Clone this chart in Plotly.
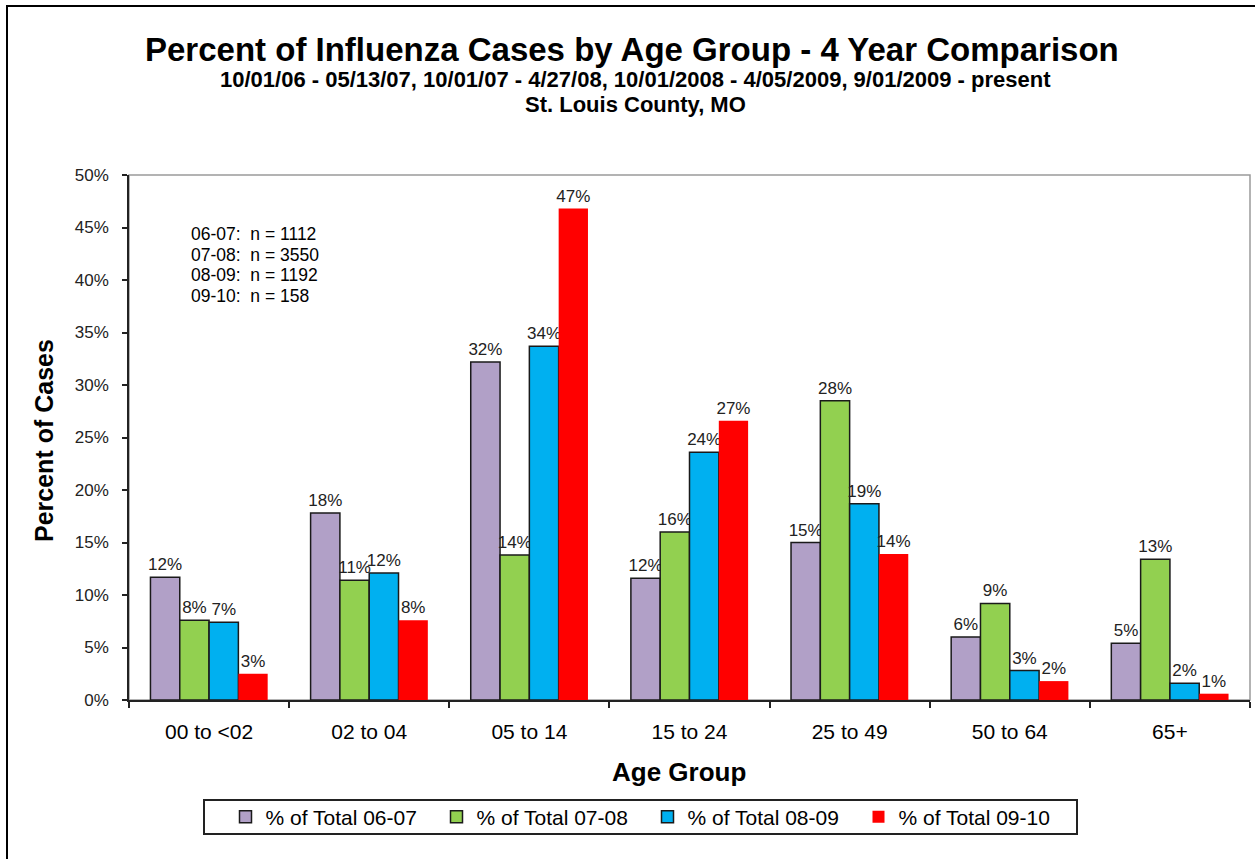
import plotly.graph_objects as go

categories = ["00 to <02", "02 to 04", "05 to 14", "15 to 24", "25 to 49", "50 to 64", "65+"]
series_names = ["% of Total 06-07", "% of Total 07-08", "% of Total 08-09", "% of Total 09-10"]
vals_0607 = [0.117, 0.178, 0.322, 0.116, 0.150, 0.060, 0.054]
vals_0708 = [0.076, 0.114, 0.138, 0.160, 0.285, 0.092, 0.134]
vals_0809 = [0.074, 0.121, 0.337, 0.236, 0.187, 0.028, 0.016]
vals_0910 = [0.025, 0.076, 0.468, 0.266, 0.139, 0.018, 0.006]
series_vals = [vals_0607, vals_0708, vals_0809, vals_0910]
colors = ["#B1A0C7", "#92D050", "#00B0F0", "#FF0000"]
outline_colors = ["#1a1a1a", "#1a1a1a", "#1a1a1a", "#FF0000"]
outline_widths = [1.5, 1.5, 1.5, 0]
n_lines = ["06-07:  n = 1112", "07-08:  n = 3550", "08-09:  n = 1192", "09-10:  n = 158"]

FONT = "Liberation Sans, Arial, sans-serif"

# plot area in pixels
W, H = 1255, 859
L, R, T, B = 129, 1250, 175, 700
PW, PH = R - L, B - T


def px(x):
    return (x - L) / PW


def py(y):
    return (B - y) / PH


fig = go.Figure()
for name, vals, c, lc, lw in zip(series_names, series_vals, colors, outline_colors, outline_widths):
    fig.add_trace(go.Bar(
        x=categories, y=vals, name=name,
        marker=dict(color=c, line=dict(color=lc, width=lw)),
        texttemplate="%{y:.0%}", textposition="outside",
        textfont=dict(family=FONT, size=17, color="#222222"),
        constraintext="none", cliponaxis=False,
    ))

annotations = [
    dict(text="<b>Percent of Influenza Cases by Age Group - 4 Year Comparison</b>",
         x=px(632), y=py(50), font=dict(size=33)),
    dict(text="<b>10/01/06 - 05/13/07, 10/01/07 - 4/27/08, 10/01/2008 - 4/05/2009, 9/01/2009 - present</b>",
         x=px(635), y=py(80), font=dict(size=22)),
    dict(text="<b>St. Louis County, MO</b>", x=px(635), y=py(104), font=dict(size=22)),
    dict(text="<b>Percent of Cases</b>", x=px(44), y=py(441), textangle=-90, font=dict(size=25)),
    dict(text="<b>Age Group</b>", x=px(679), y=py(772), font=dict(size=26)),
]
for i, t in enumerate(n_lines):
    annotations.append(dict(text=t, x=px(189), y=py(234 + 20.5 * i), xanchor="left",
                            font=dict(size=17.5)))
for a in annotations:
    a.setdefault("xanchor", "center")
    a.update(xref="paper", yref="paper", yanchor="middle", showarrow=False)
    a["font"] = dict(family=FONT, color="black", **a["font"])

shapes = [
    dict(type="rect", xref="paper", yref="paper", x0=0, x1=1, y0=0, y1=1,
         line=dict(color="#9a9a9a", width=1.5), layer="below"),
    dict(type="rect", xref="paper", yref="paper", x0=px(7), x1=px(1262), y0=py(6), y1=py(868),
         line=dict(color="black", width=2), layer="below"),
    # legend frame
    dict(type="rect", xref="paper", yref="paper", x0=px(204), x1=px(1077), y0=py(800), y1=py(834),
         line=dict(color="#222222", width=2), fillcolor="white", layer="below"),
]

fig.update_layout(
    width=W, height=H,
    margin=dict(l=L, r=W - R, t=T, b=H - B, pad=0),
    paper_bgcolor="white", plot_bgcolor="white",
    barmode="group", bargap=0.268, bargroupgap=0,
    font=dict(family=FONT, color="black"),
    showlegend=True,
    legend=dict(orientation="h", x=px(225.5), y=py(817), xanchor="left", yanchor="middle",
                font=dict(family=FONT, size=21, color="black"),
                borderwidth=0, bgcolor="rgba(0,0,0,0)",
                entrywidth=166, entrywidthmode="pixels",
                traceorder="normal"),
    annotations=annotations,
    shapes=shapes,
)
fig.update_xaxes(
    type="category", showgrid=False, showline=True, linecolor="#222222", linewidth=1.5,
    ticks="outside", tickson="boundaries", ticklen=6, tickcolor="#222222", tickwidth=1.5,
    tickfont=dict(family=FONT, size=21, color="black"), ticklabelstandoff=12,
    zeroline=False,
)
fig.update_yaxes(
    range=[0, 0.5], dtick=0.05, tickformat=".0%", showgrid=False, showline=True,
    linecolor="#222222", linewidth=1.5, ticks="outside", ticklen=5, tickcolor="#222222",
    tickwidth=1.5, tickfont=dict(family=FONT, size=17, color="#222222"), ticklabelstandoff=10,
    zeroline=False,
)

fig.write_html("out.html", config={"displayModeBar": False},
               post_script="document.body.style.margin='0';document.body.style.overflow='hidden';")
